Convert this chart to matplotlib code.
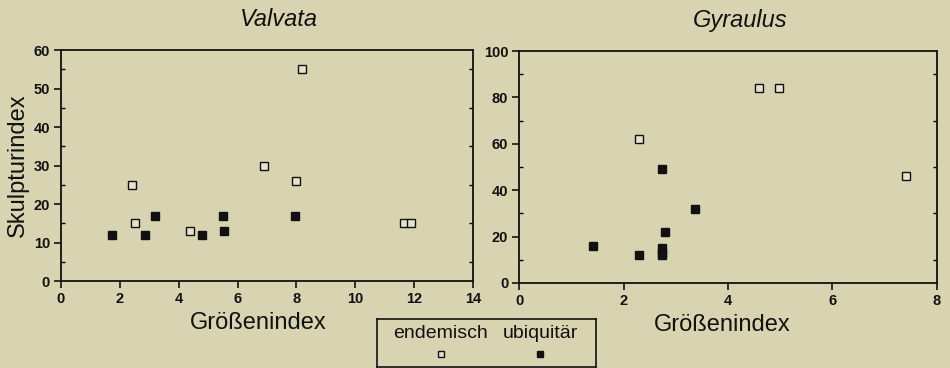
import matplotlib
matplotlib.use("Agg")
import matplotlib.pyplot as plt
from matplotlib.ticker import MultipleLocator

plt.rcParams['font.family'] = ['Liberation Sans', 'DejaVu Sans']

# Valvata: Größenindex vs. Skulpturindex
valvata_end_x = [8.2, 6.9, 8.0, 2.4, 2.5, 4.4, 11.65, 11.9]
valvata_end_y = [55, 30, 26, 25, 15, 13, 15, 15]
valvata_ubi_x = [1.75, 2.85, 3.2, 4.8, 5.5, 5.55, 7.95]
valvata_ubi_y = [12, 12, 17, 12, 17, 13, 17]

# Gyraulus: Größenindex vs. Skulpturindex
gyraulus_end_x = [4.6, 4.98, 2.3, 7.42]
gyraulus_end_y = [84, 84, 62, 46]
gyraulus_ubi_x = [2.74, 3.36, 2.8, 1.42, 2.3, 2.74, 2.74, 2.74]
gyraulus_ubi_y = [49, 32, 22, 16, 12, 12, 13, 15]

titles = ["Valvata", "Gyraulus"]
xlabel = "Größenindex"
ylabel = "Skulpturindex"
legend_labels = ["endemisch", "ubiquitär"]

bg = "#d8d4b2"
open_face = "#e6e3cc"
ink = "#111111"

fig = plt.figure(figsize=(9.5, 3.68), dpi=100, facecolor=bg)

ax1 = fig.add_axes([0.0642, 0.2364, 0.4337, 0.6277], facecolor=bg)
ax2 = fig.add_axes([0.5466, 0.2310, 0.4394, 0.6304], facecolor=bg)

def style(ax, xmax, xstep, ymax, ystep, title, label_x):
    ax.set_xlim(0, xmax)
    ax.set_ylim(0, ymax)
    ax.xaxis.set_major_locator(MultipleLocator(xstep))
    ax.yaxis.set_major_locator(MultipleLocator(ystep))
    ax.yaxis.set_minor_locator(MultipleLocator(ystep / 2))
    ax.xaxis.set_minor_locator(MultipleLocator(xstep / 2))
    ax.tick_params(axis='both', which='major', direction='out', length=5,
                   width=1.2, labelsize=10.5, pad=3, colors=ink)
    ax.tick_params(axis='y', which='minor', direction='in', length=3,
                   width=1.0, left=True, right=True)
    ax.tick_params(axis='x', which='minor', length=0)
    for lab in ax.get_xticklabels() + ax.get_yticklabels():
        lab.set_fontweight('bold')
    for sp in ax.spines.values():
        sp.set_linewidth(1.3)
        sp.set_color(ink)
    ax.set_title(title, fontsize=17, style='italic', pad=17, color=ink,
                 x=0.53)
    ax.set_xlabel(xlabel, fontsize=17, labelpad=4, color=ink)
    ax.xaxis.label.set_x(label_x)

style(ax1, 14, 2, 60, 10, titles[0], 0.478)
style(ax2, 8, 2, 100, 20, titles[1], 0.486)
ax1.set_ylabel(ylabel, fontsize=17, labelpad=3, color=ink)

ms = 5.2
for ax, ex, ey, ux, uy in [(ax1, valvata_end_x, valvata_end_y, valvata_ubi_x, valvata_ubi_y),
                           (ax2, gyraulus_end_x, gyraulus_end_y, gyraulus_ubi_x, gyraulus_ubi_y)]:
    ax.plot(ex, ey, linestyle='none', marker='s', markersize=ms,
            markerfacecolor=open_face, markeredgecolor=ink, markeredgewidth=1.0,
            clip_on=False)
    ax.plot(ux, uy, linestyle='none', marker='s', markersize=ms,
            markerfacecolor=ink, markeredgecolor=ink, markeredgewidth=1.0,
            clip_on=False)

# Shared legend box below the plots
lax = fig.add_axes([377 / 950, 1 - 367 / 368, (596 - 377) / 950, (367 - 319) / 368],
                   facecolor=bg)
lax.set_xlim(0, 1)
lax.set_ylim(0, 1)
lax.set_xticks([])
lax.set_yticks([])
for sp in lax.spines.values():
    sp.set_linewidth(1.2)
    sp.set_color(ink)
for xc, lab, face in [(0.29, legend_labels[0], open_face), (0.745, legend_labels[1], ink)]:
    lax.text(xc, 0.70, lab, ha='center', va='center', fontsize=14, color=ink)
    lax.plot([xc], [0.28], linestyle='none', marker='s', markersize=4.5,
             markerfacecolor=face, markeredgecolor=ink, markeredgewidth=1.0)

fig.savefig("out.png", dpi=100, facecolor=bg)
